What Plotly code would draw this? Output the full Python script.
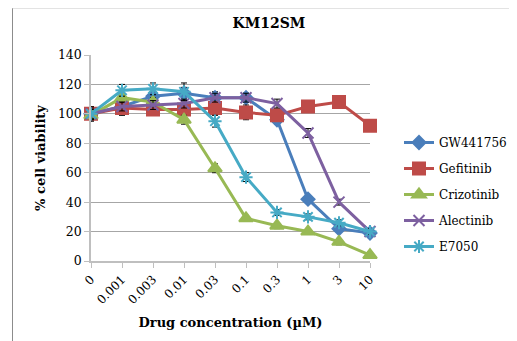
import plotly.graph_objects as go

categories = ["0", "0.001", "0.003", "0.01", "0.03", "0.1", "0.3", "1", "3", "10"]

gw441756 = [100, 105, 112, 114, 111, 111, 96, 42, 22, 19]
gw441756_err = [4, 3, 3, 4, 4, 3, 3, 2, 2, 2]
gefitinib = [100, 104, 103, 103, 104, 101, 99, 105, 108, 92]
gefitinib_err = [5, 5, 4, 3, 3, 5, 3, 2, 4, 4]
crizotinib = [99, 111, 108, 96, 63, 29, 24, 20, 13, 4]
crizotinib_err = [3, 3, 3, 3, 3, 2, 2, 2, 2, 2]
alectinib = [100, 105, 106, 107, 111, 111, 107, 87, 40, 20]
alectinib_err = [3, 3, 3, 3, 3, 3, 3, 3, 2, 2]
e7050 = [100, 116, 117, 115, 95, 57, 33, 30, 26, 20]
e7050_err = [4, 4, 4, 6, 4, 3, 2, 2, 2, 2]

series = [
    ("GW441756", gw441756, gw441756_err, "#4A7EBB", "diamond", 10),
    ("Gefitinib", gefitinib, gefitinib_err, "#BE4B48", "square", 12),
    ("Crizotinib", crizotinib, crizotinib_err, "#98B954", "triangle-up", 12),
    ("Alectinib", alectinib, alectinib_err, "#7D60A0", "x-thin-open", 11),
    ("E7050", e7050, e7050_err, "#46AAC5", "asterisk-open", 11),
]

FONT = "DejaVu Serif"
W, H = 509, 333  # page has an 8px body margin

fig = go.Figure()
for i, (name, vals, errs, color, sym, size) in enumerate(series):
    fig.add_trace(go.Scatter(
        x=categories, y=vals, name=name, mode="lines+markers",
        line=dict(color=color, width=3),
        marker=dict(symbol=sym, size=size, color=color,
                    line=dict(color=color, width=2)),
        error_y=dict(type="data", array=errs, visible=True,
                     color="#000000", thickness=1, width=3),
        cliponaxis=False, legendgroup=name,
    ))

fig.update_layout(
    width=W, height=H,
    margin=dict(l=83, r=147, t=47, b=80),
    paper_bgcolor="white", plot_bgcolor="white",
    font=dict(family=FONT, size=12, color="#000000"),
    title=dict(text="<b>KM12SM</b>", x=261 / W, xanchor="center",
               y=1 - 15 / H, yanchor="middle",
               font=dict(family=FONT, size=14)),
    showlegend=True,
    legend=dict(xref="container", yref="container",
                x=391 / W, y=1 - 120 / H, xanchor="left", yanchor="top",
                font=dict(family=FONT, size=12),
                traceorder="grouped", tracegroupgap=7,
                bgcolor="rgba(0,0,0,0)", itemwidth=30),
    xaxis=dict(type="category", categoryorder="array", categoryarray=categories,
               range=[0, 9], showgrid=False, showline=True, linecolor="#BFBFBF",
               linewidth=1.5, ticks="outside", ticklen=5, tickcolor="#BFBFBF",
               tickangle=-45, tickfont=dict(family=FONT, size=12),
               automargin=False,
               title=dict(text="<b>Drug concentration (µM)</b>",
                          font=dict(family=FONT, size=13), standoff=12),
               zeroline=False),
    yaxis=dict(range=[0, 140], dtick=20, showgrid=True, gridcolor="#A6A6A6",
               gridwidth=1, showline=True, linecolor="#BFBFBF", linewidth=1.5,
               ticks="outside", ticklen=5, tickcolor="#BFBFBF",
               tickfont=dict(family=FONT, size=12.5), automargin=False,
               title=dict(text="<b>% cell viability</b>",
                          font=dict(family=FONT, size=13), standoff=9),
               zeroline=False),
)

shapes = [
    dict(type="line", xref="paper", yref="paper",
         x0=(12.5 - 91) / 279, x1=(12.5 - 91) / 279,
         y0=(261 - 8) / 206, y1=(261 - 345) / 206,
         line=dict(color="#8C8C8C", width=1)),
    dict(type="line", xref="paper", yref="paper",
         x0=(12 - 91) / 279, x1=(520 - 91) / 279,
         y0=(261 - 8) / 206, y1=(261 - 8) / 206,
         line=dict(color="#C8C8C8", width=1)),
    dict(type="line", xref="paper", yref="paper",
         x0=(457 - 91) / 279, x1=(520 - 91) / 279,
         y0=(261 - 7) / 206, y1=(261 - 7) / 206,
         line=dict(color="#7A7A7A", width=1.5)),
]
fig.update_layout(shapes=shapes)

fig.write_html("out.html")
